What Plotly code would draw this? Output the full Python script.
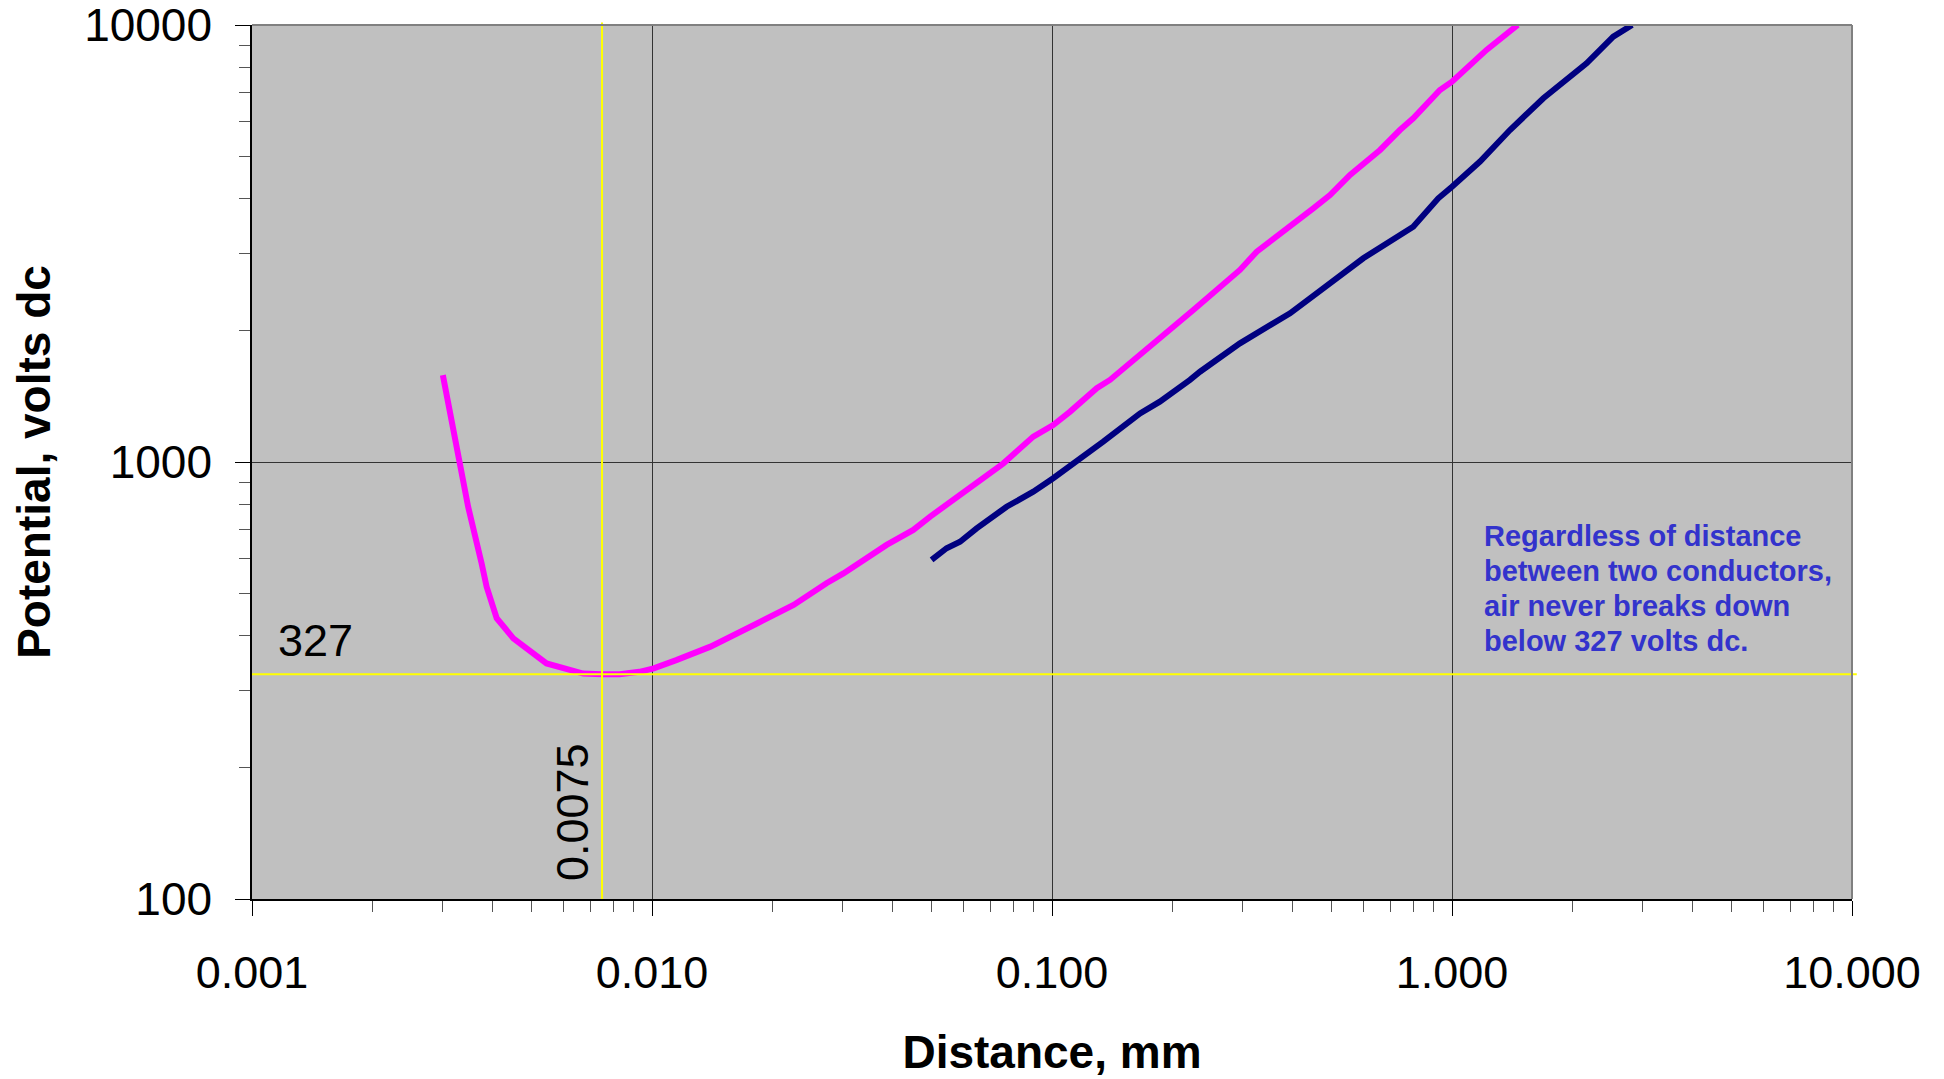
import math
import plotly.graph_objects as go

# --- data ---
pink_x = [0.0030, 0.0032, 0.00334, 0.00347, 0.00375, 0.00386, 0.00409, 0.0045, 0.00545,
          0.00673, 0.0075, 0.0083, 0.0093, 0.0101, 0.0115, 0.0140, 0.0183, 0.0226, 0.0273,
          0.0301, 0.0386, 0.045, 0.0496, 0.0589, 0.070, 0.0756, 0.0898, 0.1007, 0.111,
          0.1294, 0.1396, 0.1758, 0.2256, 0.295, 0.325, 0.450, 0.4955, 0.556, 0.661, 0.741,
          0.80, 0.933, 1.0, 1.22, 1.46]
pink_y = [1580, 1140, 959, 790, 586, 518, 439, 395, 346,
          328, 327, 327, 331, 337, 352, 378, 427, 471, 528,
          556, 646, 699, 750, 840, 950, 993, 1143, 1215, 1304,
          1475, 1541, 1836, 2228, 2751, 3029, 3806, 4083, 4538, 5176, 5750,
          6115, 7100, 7417, 8770, 10000]

navy_x = [0.050, 0.0545, 0.0589, 0.0648, 0.0770, 0.0898, 0.1007, 0.1153, 0.1343, 0.166,
          0.186, 0.2213, 0.2344, 0.295, 0.3936, 0.4587, 0.525, 0.600, 0.80, 0.924, 1.0,
          1.088, 1.175, 1.396, 1.692, 2.17, 2.53, 2.82]
navy_y = [597, 635, 657, 705, 790, 855, 918, 1002, 1113, 1292,
          1374, 1541, 1609, 1869, 2189, 2432, 2679, 2926, 3455, 4012, 4266,
          4577, 4869, 5750, 6798, 8170, 9400, 10000]

min_voltage = 327
min_distance = 0.0075

x_tickvals = [0.001, 0.01, 0.1, 1, 10]
x_ticktext = ["0.001", "0.010", "0.100", "1.000", "10.000"]
y_tickvals = [100, 1000, 10000]
y_ticktext = ["100", "1000", "10000"]
x_minor = [k * 10.0 ** d for d in range(-3, 1) for k in range(2, 10)]
y_minor = [k * 10.0 ** d for d in range(2, 4) for k in range(2, 10)]

note_lines = ["Regardless of distance", "between two conductors,",
              "air never breaks down", "below 327 volts dc."]

FONT = "Liberation Sans, Arial, sans-serif"

fig = go.Figure()
fig.add_trace(go.Scatter(x=pink_x, y=pink_y, mode="lines",
                         line=dict(color="#FF00FF", width=6), showlegend=False))
fig.add_trace(go.Scatter(x=navy_x, y=navy_y, mode="lines",
                         line=dict(color="#000080", width=6), showlegend=False))

# yellow reference lines
fig.add_shape(type="line", xref="paper", yref="y", x0=0, x1=1.003,
              y0=min_voltage, y1=min_voltage, line=dict(color="#FFFF00", width=2))
fig.add_shape(type="line", xref="x", yref="paper", x0=min_distance, x1=min_distance,
              y0=0, y1=1.003, line=dict(color="#FFFF00", width=2))
# top & right border (gray)
fig.add_shape(type="line", xref="paper", yref="paper", x0=0, x1=1, y0=1, y1=1,
              line=dict(color="#808080", width=2))
fig.add_shape(type="line", xref="paper", yref="paper", x0=1, x1=1, y0=0, y1=1,
              line=dict(color="#808080", width=2))

fig.add_annotation(x=0, xref="paper", y=math.log10(min_voltage), yref="y",
                   text=str(min_voltage), showarrow=False, xanchor="left",
                   yanchor="middle", xshift=24, yshift=34,
                   font=dict(family=FONT, size=45, color="black"))
fig.add_annotation(x=math.log10(min_distance), xref="x", y=0, yref="paper",
                   text=str(min_distance), showarrow=False, textangle=-90,
                   xanchor="center", yanchor="bottom", xshift=-30, yshift=16,
                   font=dict(family=FONT, size=45, color="black"))
for i, line in enumerate(note_lines):
    fig.add_annotation(x=0.769, xref="paper", y=0.436, yref="paper", text=line,
                       showarrow=False, xanchor="left", yanchor="top", align="left",
                       yshift=-35 * i,
                       font=dict(family=FONT, size=29, color="#3333CC", weight="bold"))

fig.update_layout(
    width=1944, height=1079,
    margin=dict(l=244, r=100, t=17, b=188),
    paper_bgcolor="white", plot_bgcolor="#C0C0C0",
    font=dict(family=FONT, color="black"),
    xaxis=dict(type="log", range=[-3, 1], tickmode="array", tickvals=x_tickvals,
               ticktext=x_ticktext, ticks="outside", ticklen=15, tickcolor="black",
               tickwidth=1, tickfont=dict(size=45), ticklabelstandoff=18,
               ticklabeloverflow="allow", automargin=False,
               showgrid=True, gridcolor="#333333", gridwidth=1,
               showline=True, linecolor="black", linewidth=1.5, zeroline=False,
               minor=dict(tickmode="array", tickvals=x_minor, ticks="outside",
                          ticklen=11, tickcolor="#555555", showgrid=False),
               title=dict(text="<b>Distance, mm</b>", font=dict(size=46), standoff=39)),
    yaxis=dict(type="log", range=[2, 4], tickmode="array", tickvals=y_tickvals,
               ticktext=y_ticktext, ticks="outside", ticklen=15, tickcolor="black",
               tickwidth=1, tickfont=dict(size=46), ticklabelstandoff=14,
               ticklabeloverflow="allow", automargin=False,
               showgrid=True, gridcolor="#333333", gridwidth=1,
               showline=True, linecolor="black", linewidth=1.5, zeroline=False,
               minor=dict(tickmode="array", tickvals=y_minor, ticks="outside",
                          ticklen=11, tickcolor="#555555", showgrid=False),
               title=dict(text="<b>Potential, volts dc</b>", font=dict(size=46), standoff=24)),
)

fig.write_html("out.html")
